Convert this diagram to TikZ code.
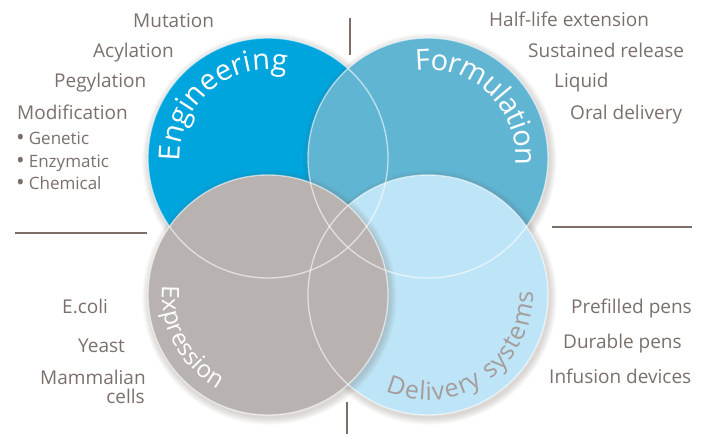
\documentclass[tikz,border=0pt]{standalone}
\usepackage{fontspec}
\setmainfont{Open Sans}
\usetikzlibrary{decorations.text}

\definecolor{engcol}{RGB}{0,165,222}
\definecolor{formcol}{RGB}{96,181,211}
\definecolor{exprcol}{RGB}{184,178,176}
\definecolor{delcol}{RGB}{190,229,247}
\definecolor{txtcol}{RGB}{123,112,107}
\definecolor{dellbl}{RGB}{164,157,155}
\definecolor{rulecol}{RGB}{125,111,103}
\definecolor{shadecol}{RGB}{110,95,85}

\newcommand\bigbullet{\raisebox{-1.2pt}{\fontsize{23}{17}\selectfont •}\hspace{4pt}}

\tikzset{
  item/.style={inner sep=0pt, anchor=base west, text=txtcol,
    font=\fontsize{19}{19}\selectfont},
  subitem/.style={inner sep=0pt, anchor=base west, text=txtcol,
    font=\fontsize{17}{17}\selectfont},
  rule/.style={draw=rulecol, line width=2pt},
  rim/.style={draw=white, draw opacity=0.6, line width=1.3pt},
  % title spread evenly along an arc: #1 text, #2 size, #3 colour
  arctitle/.style n args={3}{decorate, font=\fontsize{#2}{#2}\selectfont,
    decoration={text effects along path, text={#1},
      text effects/fit text to path,
      text effects/characters={text along path, font=\fontsize{#2}{#2}\selectfont, text=#3}}},
}

% soft shadow followed by the disc itself
\newcommand\disc[2]{%
  \foreach \k in {1,...,8}
    \fill[shadecol, opacity=0.03] ([shift={(1.5,-2.5)}]#1) circle[radius=120+0.9*\k];
  \fill[#2] (#1) circle[radius=120];
}

\begin{document}
\begin{tikzpicture}[x=1pt, y=1pt]
\useasboundingbox (0,0) rectangle (702,-434);
\fill[white] (0,0) rectangle (702,-434);

\coordinate (eng)  at (268,-158);
\coordinate (form) at (428,-158);
\coordinate (expr) at (268,-295);
\coordinate (del)  at (428,-295);

% discs, back to front
\disc{eng}{engcol}
\disc{form}{formcol}
\disc{del}{delcol}
\disc{expr}{exprcol}

% light rims over every disc
\foreach \c in {eng,form,del,expr}
  \draw[rim] (\c) circle[radius=120];

% curved titles
\path[arctitle={Engineering}{29}{white}]
  ([shift={(182:88)}]eng) arc[start angle=182, end angle=78, radius=88];
\path[arctitle={Formulation}{29}{white}]
  ([shift={(98:88)}]form) arc[start angle=98, end angle=-5, radius=88];
\path[arctitle={Expression}{24}{white}]
  ([shift={(175:106)}]expr) arc[start angle=175, end angle=242, radius=106];
\path[arctitle={Delivery systems}{25}{dellbl}]
  ([shift={(246:105)}]del) arc[start angle=246, end angle=362, radius=105];

% separating rules
\coordinate (tA) at (350,-18);  \coordinate (tB) at (350,-55);
\coordinate (bA) at (347,-402); \coordinate (bB) at (347,-434);
\coordinate (lA) at (15,-233);  \coordinate (lB) at (147,-233);
\coordinate (rA) at (552,-227); \coordinate (rB) at (692,-227);
\draw[rule] (tA) -- (tB);
\draw[rule] (bA) -- (bB);
\draw[rule] (lA) -- (lB);
\draw[rule] (rA) -- (rB);

% engineering topics
\node[item] (mut) at (133,-27) {Mutation};
\node[item] (acy) at (93,-57) {Acylation};
\node[item] (peg) at (54,-87) {Pegylation};
\node[item] (mod) at (17,-119) {Modification};
\node[subitem] (gen) at (16,-144) {\bigbullet Genetic};
\node[subitem] (enz) at (16,-167) {\bigbullet Enzymatic};
\node[subitem] (che) at (16,-189) {\bigbullet Chemical};

% formulation topics
\node[item] (hal) at (489,-26) {Half-life extension};
\node[item] (sus) at (528,-57) {Sustained release};
\node[item] (liq) at (554,-87) {Liquid};
\node[item] (ora) at (570,-119) {Oral delivery};

% expression topics
\node[item] (eco) at (62,-313) {E.coli};
\node[item] (yea) at (78,-352) {Yeast};
\node[item] (mam) at (40,-384) {Mammalian};
\node[item, anchor=base east] (cel) at (145,-403) {cells};

% delivery topics
\node[item] (pre) at (571,-313) {Prefilled pens};
\node[item] (dur) at (563,-348) {Durable pens};
\node[item] (inf) at (549,-383) {Infusion devices};
\end{tikzpicture}
\end{document}
